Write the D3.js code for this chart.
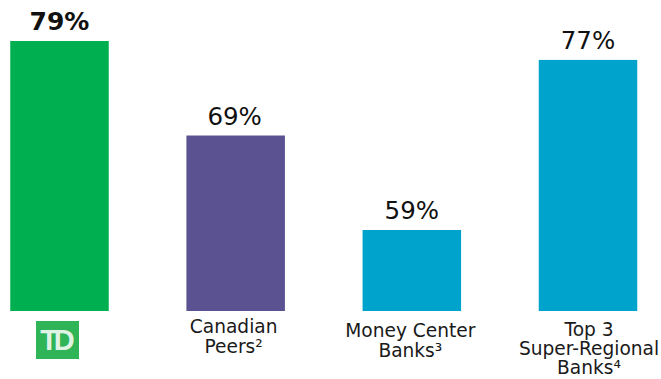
<!DOCTYPE html>
<html>
<head>
<meta charset="utf-8">
<style>
html,body{margin:0;padding:0;background:#fff}
svg{display:block}
text{font-family:"DejaVu Sans",sans-serif;fill:#1a1a1a}
</style>
<script src="https://cdnjs.cloudflare.com/ajax/libs/d3/7.8.5/d3.min.js"></script>
</head>
<body>
<div id="chart"></div>
<script>
// Efficiency ratio comparison
const categories = ["TD", "Canadian Peers", "Money Center Banks", "Top 3 Super-Regional Banks"];
const values = [79, 69, 59, 77];
const barColors = ["#00b050", "#5b5291", "#00a3cc", "#00a3cc"];
const categoryLines = [
  [],
  ["Canadian", "Peers²"],
  ["Money Center", "Banks³"],
  ["Top 3", "Super-Regional", "Banks⁴"]
];
const labelWeights = ["bold", "normal", "normal", "normal"];

const width = 661, height = 379, baseline = 311;

const svg = d3.select("#chart").append("svg")
  .attr("width", width).attr("height", height);

const x = d3.scalePoint().domain(categories).range([59.5, 588]);
const y = d3.scaleLinear().domain([50.43, 79]).range([baseline, 41]);
const barWidth = 98.5;

svg.selectAll("rect.bar").data(values).join("rect")
  .attr("class", "bar")
  .attr("x", (d, i) => x(categories[i]) - barWidth / 2)
  .attr("y", d => y(d))
  .attr("width", barWidth)
  .attr("height", d => baseline - y(d))
  .attr("fill", (d, i) => barColors[i]);

svg.selectAll("text.value").data(values).join("text")
  .attr("class", "value")
  .attr("x", (d, i) => x(categories[i]) - (i === 1 ? 1 : 0))
  .attr("y", d => y(d) - 11)
  .attr("text-anchor", "middle")
  .attr("font-size", (d, i) => i === 0 ? 25 : 24.5)
  .attr("font-weight", (d, i) => labelWeights[i])
  .style("fill", "#111")
  .text(d => d + "%");

// Category captions, one text element per line
const captionOffset = [0, -2, -1.5, 1];
const captionTop = [0, 333, 337, 336];
const captionStep = [0, 20, 20, 19.2];
categoryLines.forEach((lines, i) => {
  lines.forEach((line, j) => {
    svg.append("text")
      .attr("x", x(categories[i]) + captionOffset[i])
      .attr("y", captionTop[i] + j * captionStep[i])
      .attr("text-anchor", "middle")
      .attr("font-size", 18.6)
      .text(line);
  });
});

// Brand tile under the first bar
const logo = svg.append("g");
logo.append("rect")
  .attr("x", 36).attr("y", 321).attr("width", 43).attr("height", 38)
  .attr("fill", "#2fb457");
logo.append("text")
  .attr("x", 55.5).attr("y", 350)
  .attr("text-anchor", "middle")
  .attr("font-size", 29)
  .attr("font-weight", "bold")
  .attr("letter-spacing", -4)
  .style("font-family", "'Liberation Sans',sans-serif")
  .style("fill", "#dff3e4")
  .text("TD");
</script>
</body>
</html>
